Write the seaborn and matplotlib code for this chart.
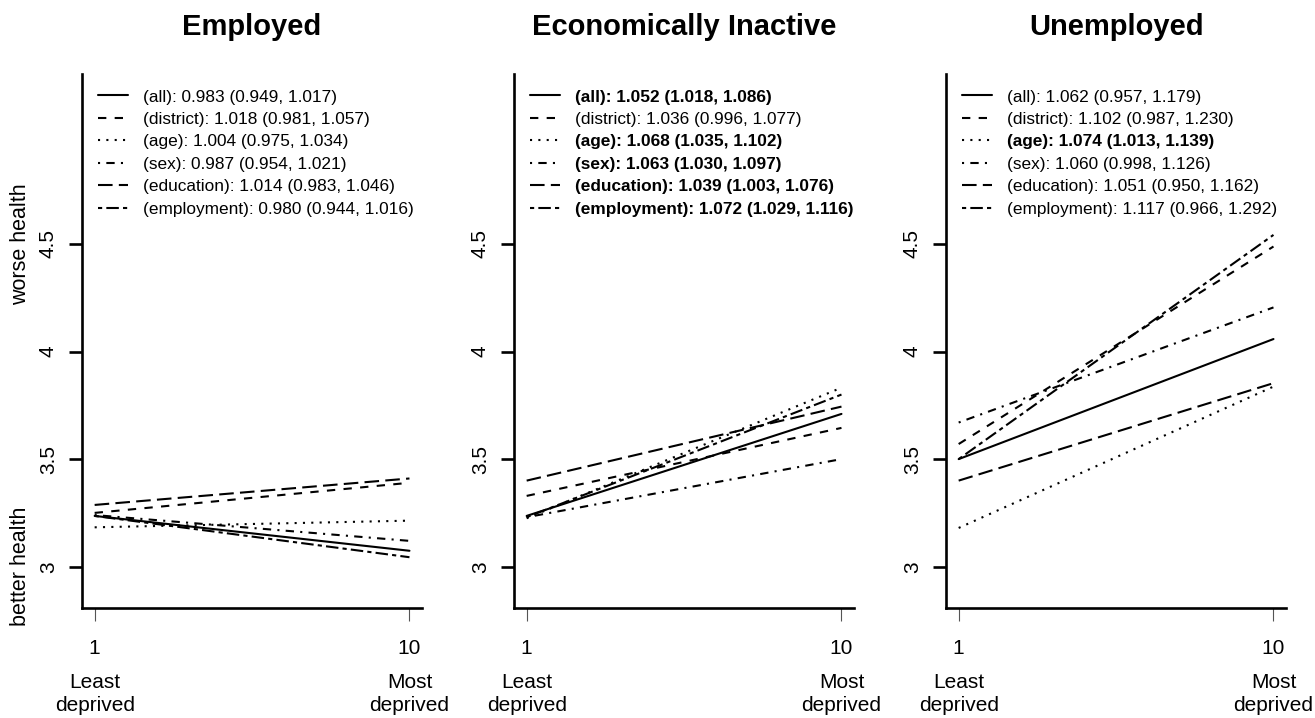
import pandas as pd
import seaborn as sns
import matplotlib.pyplot as plt
from matplotlib.lines import Line2D
import matplotlib.transforms as mtransforms

# Model names, in legend order
models = ["all", "district", "age", "sex", "education", "employment"]
panels = ["Employed", "Economically Inactive", "Unemployed"]
deciles = [1, 10]

# Predicted health score at least / most deprived decile
employed_least = [3.236, 3.250, 3.183, 3.240, 3.287, 3.236]
employed_most = [3.074, 3.390, 3.214, 3.120, 3.410, 3.044]
inactive_least = [3.236, 3.329, 3.225, 3.230, 3.400, 3.230]
inactive_most = [3.710, 3.645, 3.832, 3.500, 3.744, 3.800]
unemployed_least = [3.500, 3.570, 3.180, 3.670, 3.400, 3.500]
unemployed_most = [4.058, 4.488, 3.837, 4.205, 3.853, 4.542]

# Odds ratios (95% CI) shown in legends
employed_or = ["0.983 (0.949, 1.017)", "1.018 (0.981, 1.057)", "1.004 (0.975, 1.034)",
               "0.987 (0.954, 1.021)", "1.014 (0.983, 1.046)", "0.980 (0.944, 1.016)"]
inactive_or = ["1.052 (1.018, 1.086)", "1.036 (0.996, 1.077)", "1.068 (1.035, 1.102)",
               "1.063 (1.030, 1.097)", "1.039 (1.003, 1.076)", "1.072 (1.029, 1.116)"]
unemployed_or = ["1.062 (0.957, 1.179)", "1.102 (0.987, 1.230)", "1.074 (1.013, 1.139)",
                 "1.060 (0.998, 1.126)", "1.051 (0.950, 1.162)", "1.117 (0.966, 1.292)"]

# significant results are printed in bold
employed_bold = [False, False, False, False, False, False]
inactive_bold = [True, False, True, True, True, True]
unemployed_bold = [False, False, True, False, False, False]

# R-style line types: solid, dashed, dotted, dotdash, longdash, twodash
dash_map = {"all": "", "district": (4, 4), "age": (1, 3), "sex": (1, 3, 4, 3),
            "education": (7, 3), "employment": (2, 2, 6, 2)}

least = [employed_least, inactive_least, unemployed_least]
most = [employed_most, inactive_most, unemployed_most]
ors = [employed_or, inactive_or, unemployed_or]
bolds = [employed_bold, inactive_bold, unemployed_bold]

rows = []
for p, panel in enumerate(panels):
    for m, model in enumerate(models):
        rows.append({"panel": panel, "model": model, "decile": deciles[0], "score": least[p][m]})
        rows.append({"panel": panel, "model": model, "decile": deciles[1], "score": most[p][m]})
df = pd.DataFrame(rows)

sns.set_theme(style="ticks")
plt.rcParams["font.family"] = ["Liberation Sans", "DejaVu Sans"]
plt.rcParams["text.color"] = "black"
plt.rcParams["axes.labelcolor"] = "black"
plt.rcParams["xtick.labelcolor"] = "black"
plt.rcParams["ytick.labelcolor"] = "black"

fig, axes = plt.subplots(1, 3, figsize=(13.15, 7.18), dpi=100)
plt.subplots_adjust(left=0.0624, right=0.978, bottom=0.1532, top=0.897, wspace=0.2706)

lw = 1.5
for p, ax in enumerate(axes):
    sub = df[df["panel"] == panels[p]]
    sns.lineplot(data=sub, x="decile", y="score", style="model", style_order=models,
                 dashes=dash_map, color="black", linewidth=lw, errorbar=None,
                 legend=False, ax=ax)

    ax.set_xlim(0.64, 10.36)
    ax.set_ylim(2.808, 5.29)
    ax.set_xticks([1, 10])
    ax.set_xticklabels(["1", "10"])
    ax.set_yticks([3, 3.5, 4, 4.5])
    ax.set_yticklabels(["3", "3.5", "4", "4.5"])
    ax.set_xlabel("")
    ax.set_ylabel("")
    sns.despine(ax=ax)
    for s in ["left", "bottom"]:
        ax.spines[s].set_linewidth(1.9)
        ax.spines[s].set_color("black")
    ax.tick_params(axis="y", length=9.5, width=1.9, labelsize=15, pad=8,
                   labelrotation=90, color="black", labelcolor="black")
    for t in ax.get_yticklabels():
        t.set_va("center")
    ax.tick_params(axis="x", length=9.5, width=0.8, color="#555555",
                   labelcolor="black", labelsize=15, pad=13)

    ax.set_title(panels[p], fontsize=21, fontweight="bold", pad=28, color="black")

    xt = ax.get_xaxis_transform()
    ax.text(1, -0.121, "Least\ndeprived", transform=xt, ha="center", va="top",
            fontsize=15, linespacing=1.3)
    ax.text(10, -0.121, "Most\ndeprived", transform=xt, ha="center", va="top",
            fontsize=15, linespacing=1.3)

    handles = [Line2D([], [], color="black", linewidth=lw,
                      linestyle="-" if dash_map[m] == "" else (0, dash_map[m]))
               for m in models]
    labels = [f"({m}): {v}" for m, v in zip(models, ors[p])]
    leg = ax.legend(handles, labels, loc="upper left", frameon=False, fontsize=12.4,
                    handlelength=1.74, handletextpad=0.87, labelspacing=0.43,
                    borderpad=0.9, borderaxespad=0)
    for t, b in zip(leg.get_texts(), bolds[p]):
        t.set_color("black")
        if b:
            t.set_fontweight("bold")

# Health direction labels on the first panel
yt = mtransforms.blended_transform_factory(axes[0].transAxes, axes[0].transData)
axes[0].text(-0.182, 4.5, "worse health", transform=yt, rotation=90,
             ha="center", va="center", fontsize=15.5)
axes[0].text(-0.182, 3.0, "better health", transform=yt, rotation=90,
             ha="center", va="center", fontsize=15.5)

plt.savefig("out.png", dpi=100)
